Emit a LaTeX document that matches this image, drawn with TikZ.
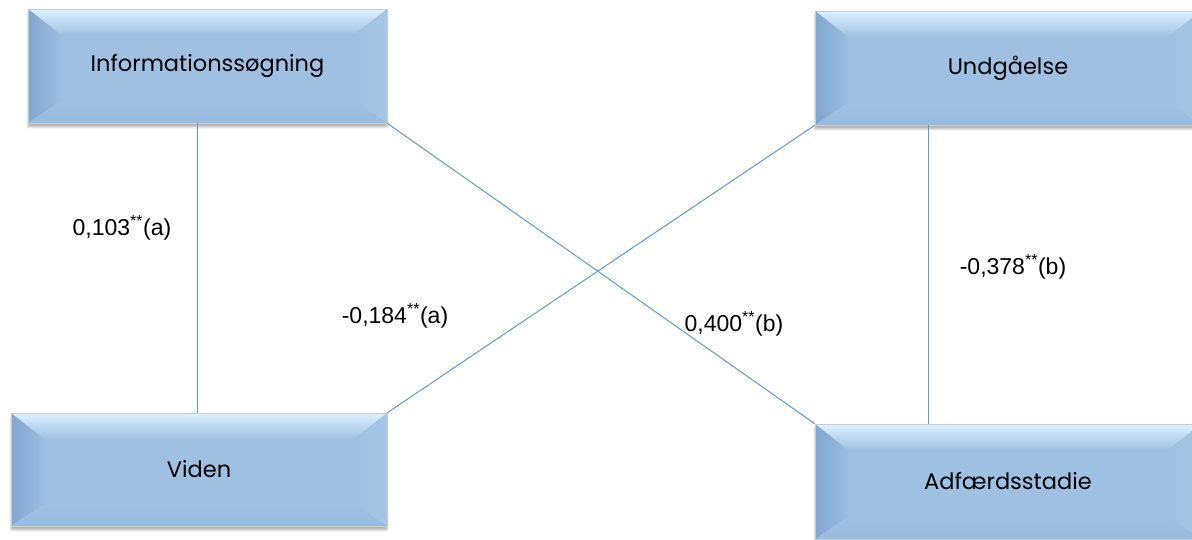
\documentclass[tikz,border=0pt]{standalone}
\usepackage{fontspec}
\setmainfont{Liberation Sans}
\newfontfamily\boxfont{Poppins}
\usetikzlibrary{calc,shadows.blur}
\definecolor{face}{RGB}{158,193,227}
\definecolor{topc}{RGB}{222,240,255}
\definecolor{leftc}{RGB}{128,165,207}
\definecolor{rightc}{RGB}{165,198,230}
\definecolor{botc}{RGB}{152,188,224}
\definecolor{linkc}{RGB}{91,155,213}
\newcommand\bevelpaint{%
  \path (path picture bounding box.north west) coordinate (bNW)
        (path picture bounding box.north east) coordinate (bNE)
        (path picture bounding box.south west) coordinate (bSW)
        (path picture bounding box.south east) coordinate (bSE);
  \shade[top color=topc, bottom color=face] (bNW) -- (bNE) -- ($(bNE)+(-33,-26)$) -- ($(bNW)+(33,-26)$) -- cycle;
  \shade[left color=leftc, right color=face!90!leftc] (bNW) -- ($(bNW)+(33,-26)$) -- ($(bSW)+(33,22)$) -- (bSW) -- cycle;
  \shade[right color=rightc, left color=face] (bNE) -- ($(bNE)+(-33,-26)$) -- ($(bSE)+(-33,22)$) -- (bSE) -- cycle;
  \shade[bottom color=botc, top color=face] (bSW) -- ($(bSW)+(33,22)$) -- ($(bSE)+(-33,22)$) -- (bSE) -- cycle;
}
\tikzset{
  bevelbox/.style={draw=gray!40, line width=0.7pt, fill=face,
    path picture={\bevelpaint},
    blur shadow={shadow xshift=0pt, shadow yshift=-4pt, shadow opacity=30, shadow blur steps=6},
    font=\boxfont\fontsize{22.5}{26}\selectfont, inner sep=0pt},
  link/.style={draw=linkc, line width=1pt},
  coef/.style={font=\fontsize{23}{27}\selectfont, inner sep=1pt}
}
\begin{document}
\begin{tikzpicture}[x=1pt,y=1pt]
\clip (0,0) rectangle (1192,540);
\node[bevelbox, minimum width=359, minimum height=114] (info) at (207.5,474) {\raisebox{-3pt}{Informationssøgning}};
\node[bevelbox, minimum width=386, minimum height=114] (undg) at (1008,472) {\raisebox{-2pt}{Undgåelse}};
\node[bevelbox, minimum width=376, minimum height=113] (viden) at (199,70.5) {Viden};
\node[bevelbox, minimum width=386, minimum height=115] (adf) at (1008,58.5) {Adfærdsstadie};
\coordinate (xl) at (197,0);
\coordinate (xr) at (928,0);
\draw[link] (info.south -| xl) -- (viden.north -| xl);
\draw[link] (undg.south -| xr) -- (adf.north -| xr);
\draw[link] (info.south east) -- (adf.north west);
\draw[link] (viden.north east) -- (undg.south west);
\node[coef] (c1) at (122,312) {0,103\textsuperscript{**}(a)};
\node[coef] (c2) at (395,224) {-0,184\textsuperscript{**}(a)};
\node[coef] (c3) at (734,216) {0,400\textsuperscript{**}(b)};
\node[coef] (c4) at (1013,273) {-0,378\textsuperscript{**}(b)};
\end{tikzpicture}
\end{document}
